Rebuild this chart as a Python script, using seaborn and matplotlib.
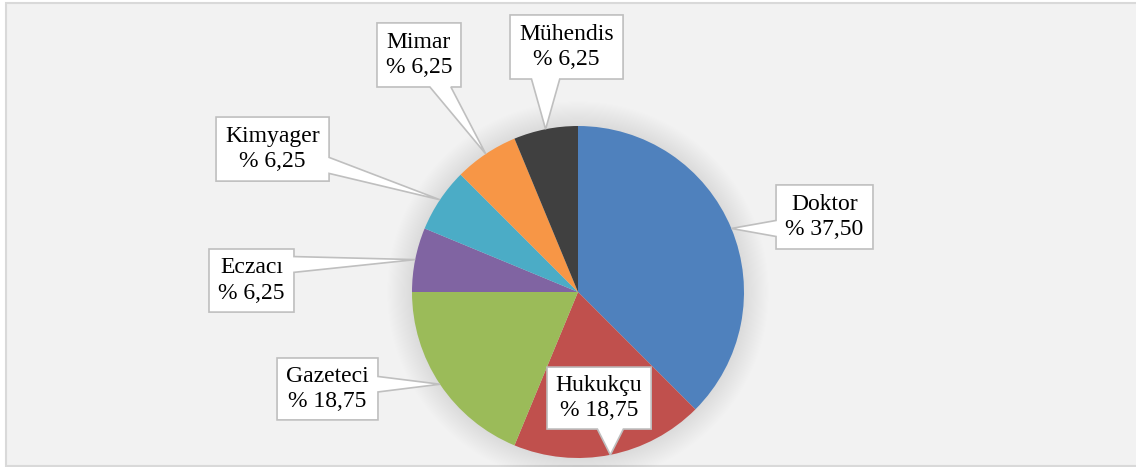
import numpy as np
import matplotlib
matplotlib.use("Agg")
import matplotlib.pyplot as plt
from matplotlib.patches import Polygon, Circle, Rectangle
import seaborn as sns

# ---- data ----
categories = ["Doktor", "Hukukçu", "Gazeteci", "Eczacı", "Kimyager", "Mimar", "Mühendis"]
values = [37.50, 18.75, 18.75, 6.25, 6.25, 6.25, 6.25]
colors = ["#4f81bd", "#c0504d", "#9bbb59", "#8064a2", "#4bacc6", "#f79646", "#404040"]

# label box layout (centre x, centre y, width, height) in pie-radius units
box_layout = {
    "Doktor":   (1.485, 0.452, 0.584, 0.386),
    "Hukukçu":  (0.127, -0.639, 0.627, 0.373),
    "Gazeteci": (-1.509, -0.584, 0.608, 0.373),
    "Eczacı":   (-1.967, 0.069, 0.512, 0.380),
    "Kimyager": (-1.840, 0.861, 0.681, 0.386),
    "Mimar":    (-0.958, 1.428, 0.506, 0.386),
    "Mühendis": (-0.069, 1.476, 0.681, 0.386),
}

sns.set_theme(style="white")
plt.rcParams["font.family"] = ["Liberation Serif", "DejaVu Serif"]

W, H, DPI = 1136, 467, 100
fig = plt.figure(figsize=(W / DPI, H / DPI), dpi=DPI, facecolor="white")

# chart area background with border
fig.patches.append(Rectangle((5.5 / W, 1.5 / H), 1.2, (465 - 2) / H,
                             transform=fig.transFigure, facecolor="#f2f2f2",
                             edgecolor="#d9d9d9", linewidth=1.5, zorder=-10))

ax = fig.add_axes([0, 0, 1, 1])
ax.set_facecolor("none")
ax.patch.set_alpha(0)
R = 166.0
cx_px, cy_px = 578.0, 292.0

pal = sns.color_palette(colors)
wedges, _ = ax.pie(values, colors=pal, startangle=90, counterclock=False,
                   radius=1, center=(0, 0), wedgeprops=dict(linewidth=0))
for w_ in wedges:
    w_.set_zorder(2)

# soft shadow
for k in range(24):
    ax.add_patch(Circle((0, 0), 1.0 + k * 0.0065, facecolor="black",
                        alpha=0.0055, linewidth=0, zorder=1))

ax.set_aspect("auto")
ax.set_xlim(-cx_px / R, (W - cx_px) / R)
ax.set_ylim(-(H - cy_px) / R, cy_px / R)
ax.axis("off")


def callout(cx, cy, w, h, tip):
    x0, x1 = cx - w / 2, cx + w / 2
    y0, y1 = cy - h / 2, cy + h / 2
    tx, ty = tip
    dx = (tx - cx) / (w / 2)
    dy = (ty - cy) / (h / 2)
    if abs(dx) >= abs(dy):
        side = "right" if dx > 0 else "left"
    else:
        side = "top" if dy > 0 else "bottom"

    def base(lo, hi, p):
        L = hi - lo
        b = 0.25 * L
        m = 0.12 * L
        c = min(max(p, lo + m + b / 2), hi - m - b / 2)
        return c - b / 2, c + b / 2

    pts = [(x0, y0)]
    if side == "bottom":
        a, b = base(x0, x1, tx)
        pts += [(a, y0), (tx, ty), (b, y0)]
    pts.append((x1, y0))
    if side == "right":
        a, b = base(y0, y1, ty)
        pts += [(x1, a), (tx, ty), (x1, b)]
    pts.append((x1, y1))
    if side == "top":
        a, b = base(x0, x1, tx)
        pts += [(b, y1), (tx, ty), (a, y1)]
    pts.append((x0, y1))
    if side == "left":
        a, b = base(y0, y1, ty)
        pts += [(x0, b), (tx, ty), (x0, a)]
    return Polygon(pts, closed=True, facecolor="white", edgecolor="#bfbfbf",
                   linewidth=1.2, joinstyle="miter", zorder=5)


total = sum(values)
start = 90.0
for name, v in zip(categories, values):
    span = 360.0 * v / total
    mid = np.deg2rad(start - span / 2)
    start -= span
    tip = (np.cos(mid), np.sin(mid))
    bx, by, bw, bh = box_layout[name]
    ax.add_patch(callout(bx, by, bw, bh, tip))
    label = f"{name}\n% {v:.2f}".replace(".", ",")
    ax.text(bx, by, label, ha="center", va="center", fontsize=17,
            color="black", linespacing=1.28, zorder=6)

fig.savefig("out.png", dpi=DPI, facecolor="white")
